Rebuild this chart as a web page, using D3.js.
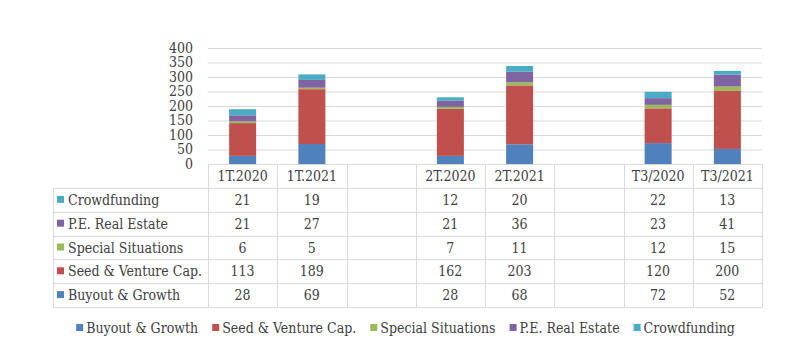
<!DOCTYPE html>
<html><head><meta charset="utf-8">
<script src="https://cdn.jsdelivr.net/npm/d3@7"></script>
<style>body{margin:0;background:#fff;} svg{display:block;}</style>
</head><body>
<svg id="c" width="788" height="358"></svg>
<script>
const categories = ["1T.2020","1T.2021","","2T.2020","2T.2021","","T3/2020","T3/2021"];
const buyout  = [28,69,null,28,68,null,72,52];
const seed    = [113,189,null,162,203,null,120,200];
const special = [6,5,null,7,11,null,12,15];
const peReal  = [21,27,null,21,36,null,23,41];
const crowd   = [21,19,null,12,20,null,22,13];
const yTicks  = [0,50,100,150,200,250,300,350,400];
const seriesNames  = ["Buyout & Growth","Seed & Venture Cap.","Special Situations","P.E. Real Estate","Crowdfunding"];
const seriesColors = ["#4f81bd","#c0504d","#9bbb59","#8064a2","#4bacc6"];
const seriesData = [buyout, seed, special, peReal, crowd];

const FONT = "'DejaVu Serif Condensed','DejaVu Serif',serif";
const TXT = "#404040", GRID = "#d9d9d9";
const svg = d3.select("#c");

const x = d3.scaleBand().domain(d3.range(categories.length)).range([208,762]).paddingInner(0).paddingOuter(0);
const y = d3.scaleLinear().domain([0,400]).range([164,48]);

// gridlines
svg.append("g").selectAll("line").data(yTicks).join("line")
  .attr("x1",208).attr("x2",762).attr("y1",d=>y(d)+0.5).attr("y2",d=>y(d)+0.5)
  .attr("stroke",GRID).attr("stroke-width",1);

// y axis labels
const yAxis = d3.axisLeft(y).tickValues(yTicks).tickSize(0).tickPadding(0);
const ga = svg.append("g").attr("transform","translate(193,0)").call(yAxis);
ga.select(".domain").remove();
ga.selectAll("text").attr("font-family",FONT).attr("font-size",14).attr("fill",TXT);

// stacked bars
const rows = categories.map((c,i)=>{const o={i}; seriesNames.forEach((s,k)=>o[s]=seriesData[k][i]||0); return o;});
const stack = d3.stack().keys(seriesNames)(rows);
const bw = x.bandwidth()*0.39;
svg.append("g").selectAll("g").data(stack).join("g")
  .attr("fill",(d,k)=>seriesColors[k])
  .selectAll("rect").data(d=>d.filter(p=>p[1]>p[0])).join("rect")
  .attr("x",p=>x(p.data.i)+(x.bandwidth()-bw)/2)
  .attr("width",bw)
  .attr("y",p=>y(p[1]))
  .attr("height",p=>y(p[0])-y(p[1]));

// table
const tbl = svg.append("g");
const rowH = 23.8, headTop = 164, headBot = 188;
const tableRows = [4,3,2,1,0];
const colEdges = d3.range(categories.length+1).map(i=> i<categories.length ? x(i) : x.range()[1]);
const bottom = headBot + rowH*tableRows.length;
// horizontal lines
tbl.append("line").attr("x1",208).attr("x2",762).attr("y1",headTop+0.5).attr("y2",headTop+0.5).attr("stroke",GRID);
d3.range(tableRows.length+1).forEach(r=>{
  const yy = Math.round(headBot + r*rowH)+0.5;
  tbl.append("line").attr("x1",53).attr("x2",762).attr("y1",yy).attr("y2",yy).attr("stroke",GRID);
});
// vertical lines
colEdges.forEach(cx=>{
  tbl.append("line").attr("x1",Math.round(cx)+0.5).attr("x2",Math.round(cx)+0.5).attr("y1",headTop).attr("y2",bottom).attr("stroke",GRID);
});
tbl.append("line").attr("x1",53.5).attr("x2",53.5).attr("y1",headBot).attr("y2",bottom).attr("stroke",GRID);

// header text
categories.forEach((c,i)=>{
  tbl.append("text").attr("x",x(i)+x.bandwidth()/2).attr("y",(headTop+headBot)/2+5)
    .attr("text-anchor","middle").attr("font-family",FONT).attr("font-size",14).attr("fill",TXT).text(c);
});
tableRows.forEach((k,r)=>{
  const cy = headBot + r*rowH + rowH/2;
  tbl.append("rect").attr("x",57).attr("y",cy-4).attr("width",7).attr("height",7).attr("fill",seriesColors[k]);
  tbl.append("text").attr("x",68).attr("y",cy+5).attr("font-family",FONT).attr("font-size",14).attr("fill",TXT).text(seriesNames[k]);
  seriesData[k].forEach((v,i)=>{
    if(v==null) return;
    tbl.append("text").attr("x",x(i)+x.bandwidth()/2).attr("y",cy+5).attr("text-anchor","middle")
      .attr("font-family",FONT).attr("font-size",14).attr("fill",TXT).text(v);
  });
});

// legend
const lg = svg.append("g");
let lx = 0; const items=[];
seriesNames.forEach((s,k)=>{
  const g = lg.append("g");
  g.append("rect").attr("x",0).attr("y",-4).attr("width",7).attr("height",7).attr("fill",seriesColors[k]);
  const t = g.append("text").attr("x",10).attr("y",5).attr("font-family",FONT).attr("font-size",14).attr("fill",TXT).text(s);
  const w = 10 + t.node().getComputedTextLength();
  g.attr("transform",`translate(${lx},0)`);
  lx += w + 14;
});
const totalW = lx - 14;
lg.attr("transform",`translate(${405.5 - totalW/2},328)`);
</script>
</body></html>
